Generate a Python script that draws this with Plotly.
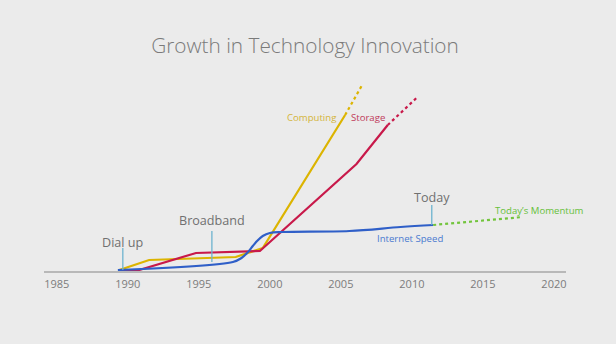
import plotly.graph_objects as go

# ---- data (years, relative level) ----
computing_x = [1989.4, 1991.5, 1997.6, 1999.5, 2005.3]
computing_y = [1, 11, 14, 23, 156]
computing_proj_x = [2005.3, 2006.5]
computing_proj_y = [156, 186]

storage_x = [1989.4, 1990.8, 1994.8, 1999.3, 2006.1, 2008.3]
storage_y = [1, 1, 18, 20, 107, 146]
storage_proj_x = [2008.3, 2010.4]
storage_proj_y = [146, 174]

internet_x = [1989.3, 1997.4, 1998.0, 1998.4, 1998.8, 1999.1, 1999.5, 2000.0, 2000.9, 2005.6, 2009.2, 2011.5]
internet_y = [1, 9, 13, 18, 25, 30, 35, 38, 39, 40, 44, 46]
momentum_x = [2011.5, 2017.8]
momentum_y = [46, 54]

milestone_labels = ["Dial up", "Broadband", "Today"]
milestone_x = [1989.65, 1995.92, 2011.4]
milestone_y0 = [1, 9, 46]
milestone_y1 = [23, 40, 66]
milestone_text_y = [29, 51, 74]

series_labels = ["Computing", "Storage", "Internet Speed", "Today\u2019s Momentum"]
series_label_x = [2003.0, 2006.9, 2009.9, 2019.0]
series_label_y = [154, 154, 33, 61]

tick_years = [1985, 1990, 1995, 2000, 2005, 2010, 2015, 2020]

YELLOW = "#dcb400"
RED = "#c8194a"
BLUE = "#2f5fc8"
GREEN = "#72c43c"
LINKC = "#6db3cf"
FONT = "Open Sans"

fig = go.Figure()

for xs, ys, c in [(computing_x, computing_y, YELLOW), (storage_x, storage_y, RED),
                  (internet_x, internet_y, BLUE)]:
    fig.add_trace(go.Scatter(x=xs, y=ys, mode="lines", line=dict(color=c, width=2.2),
                             line_shape="spline" if c == BLUE else "linear",
                             hoverinfo="skip", showlegend=False))
for xs, ys, c in [(computing_proj_x, computing_proj_y, YELLOW), (storage_proj_x, storage_proj_y, RED),
                  (momentum_x, momentum_y, GREEN)]:
    fig.add_trace(go.Scatter(x=xs, y=ys, mode="lines", line=dict(color=c, width=2.2, dash="dot"),
                             hoverinfo="skip", showlegend=False))

for i, lab in enumerate(milestone_labels):
    fig.add_trace(go.Scatter(x=[milestone_x[i], milestone_x[i]], y=[milestone_y0[i], milestone_y1[i]],
                             mode="lines", line=dict(color=LINKC, width=1.3),
                             hoverinfo="skip", showlegend=False))
    fig.add_annotation(x=milestone_x[i], y=milestone_text_y[i], text=lab, showarrow=False,
                       font=dict(family=FONT, size=12.6, color="#707070"))

label_colors = ["#d4b43a", "#c03a5a", "#4a7ad0", "#66c03a"]
for i, lab in enumerate(series_labels):
    fig.add_annotation(x=series_label_x[i], y=series_label_y[i], text=lab, showarrow=False,
                       font=dict(family=FONT, size=9.6, color=label_colors[i]))

fig.update_layout(
    width=616, height=344,
    margin=dict(l=44, r=50, t=71, b=73),
    paper_bgcolor="#ebebeb", plot_bgcolor="rgba(0,0,0,0)",
    title=dict(text="Growth in Technology Innovation", x=0.5, xref="paper", xanchor="center",
               y=1 - 46 / 344, yref="container", yanchor="middle",
               font=dict(family=FONT, size=20.8, color="#7a7a7a", weight=300)),
    xaxis=dict(range=[1984.1, 2020.85], tickvals=tick_years, ticktext=[str(t) for t in tick_years],
               showgrid=False, zeroline=False, showline=True, linecolor="#b8b8b8", linewidth=2,
               ticks="", ticklabelstandoff=2,
               tickfont=dict(family=FONT, size=11, color="#7c7c7c")),
    yaxis=dict(range=[0, 200], visible=False, showgrid=False, zeroline=False),
)

fig.write_html("out.html")
